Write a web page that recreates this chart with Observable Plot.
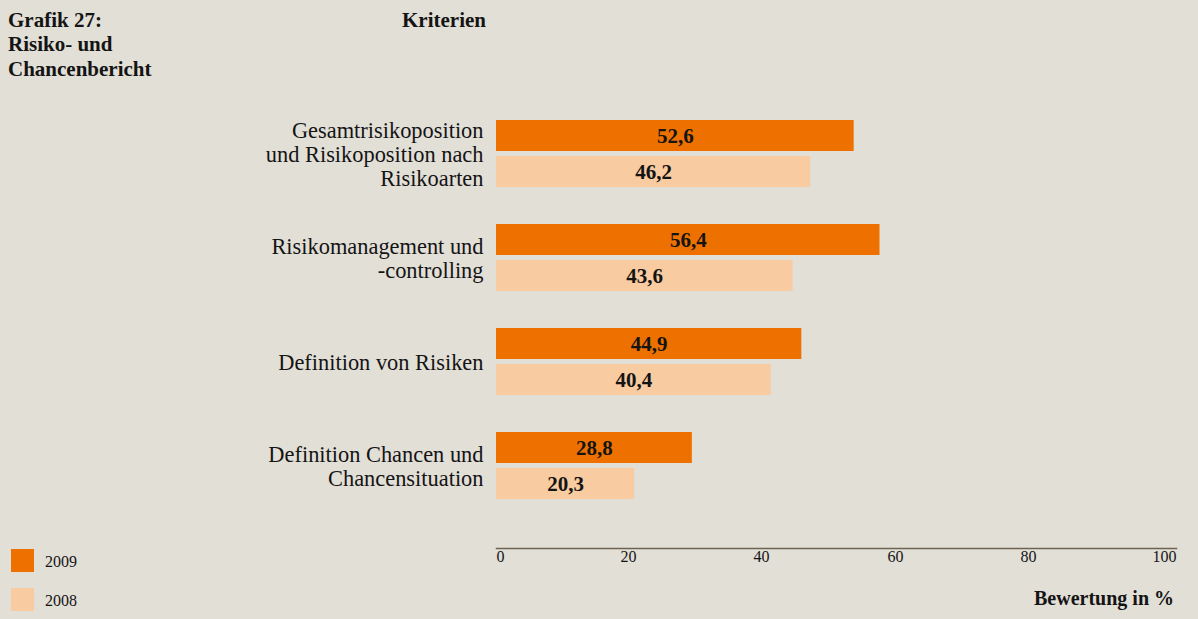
<!DOCTYPE html>
<html>
<head>
<meta charset="utf-8">
<script src="https://cdn.jsdelivr.net/npm/d3@7"></script>
<script src="https://cdn.jsdelivr.net/npm/@observablehq/plot@0.6"></script>
<style>
  html, body { margin: 0; padding: 0; background: #e2dfd7; }
  #wrap { position: relative; width: 1198px; height: 619px; font-family: "Liberation Serif", serif; color: #141414; overflow: hidden; }
  #wrap svg { position: absolute; left: 0; top: 0; }
  .abs { position: absolute; white-space: nowrap; }
  .title { left: 8px; top: 7.5px; font-weight: bold; font-size: 21px; line-height: 24.5px; }
  .kriterien { right: 712px; top: 7.5px; font-weight: bold; font-size: 21px; line-height: 24.5px; }
  .xlabel { right: 24px; top: 586px; font-weight: bold; font-size: 20px; line-height: 24.5px; }
  .sw { position: absolute; left: 11px; width: 23px; height: 23px; }
  .lg { position: absolute; left: 45px; font-size: 16px; line-height: 16px; }
</style>
</head>
<body>
<div id="wrap"></div>
<script>
// ---- data ----
const categories = [
  "Gesamtrisikoposition\nund Risikoposition nach\nRisikoarten",
  "Risikomanagement und\n-controlling",
  "Definition von Risiken",
  "Definition Chancen und\nChancensituation"
];
const values2009 = [52.6, 56.4, 44.9, 28.8];
const values2008 = [46.2, 43.6, 40.4, 20.3];
const xTicks = [0, 20, 40, 60, 80, 100];
const seriesNames = ["2009", "2008"];
const titleLines = ["Grafik 27:", "Risiko- und", "Chancenbericht"];
const axisTitle = "Bewertung in %";
const categoryHeader = "Kriterien";

// ---- styles ----
const color2009 = "#ee7100";
const color2008 = "#f9cba0";
const ink = "#141414";
const tickNudge = [4, -4, -7, -9, -12, -12];

const rows = categories.map((c, i) => ({category: c, v2009: values2009[i], v2008: values2008[i]}));
const fmt = v => v.toFixed(1).replace(".", ",");

const chart = Plot.plot({
  width: 1198,
  height: 619,
  marginLeft: 496,
  marginRight: 22,
  marginTop: 119,
  marginBottom: 71,
  style: {background: "transparent", fontFamily: "Liberation Serif, serif", color: ink},
  x: {domain: [0, 100], axis: null},
  y: {domain: categories, range: [119, 500], paddingInner: 0.36, paddingOuter: 0, axis: null},
  marks: [
    Plot.barX(rows, {x: "v2009", y: "category", fill: color2009, insetBottom: 36}),
    Plot.barX(rows, {x: "v2008", y: "category", fill: color2008, insetTop: 36}),
    Plot.text(rows, {x: d => d.v2009 / 2, y: "category", dy: -18, text: d => fmt(d.v2009), fontWeight: "bold", fontSize: 21, fill: ink}),
    Plot.text(rows, {x: d => d.v2008 / 2, y: "category", dy: 18, text: d => fmt(d.v2008), fontWeight: "bold", fontSize: 21, fill: ink}),
    Plot.text(categories, {y: d => d, text: d => d, frameAnchor: "left", textAnchor: "end", dx: -13, fontSize: 22.4, lineHeight: 24 / 22.4, fill: ink}),
    Plot.frame({anchor: "bottom", stroke: "#6e6350", strokeWidth: 1.5}),
    ...xTicks.map((t, i) => Plot.text([t], {x: d => d, text: d => String(d), frameAnchor: "bottom", dy: 13, dx: tickNudge[i], fontSize: 16, fill: ink}))
  ]
});

const wrap = document.getElementById("wrap");
wrap.appendChild(chart);

function addDiv(cls, html, extra) {
  const d = document.createElement("div");
  d.className = "abs " + cls;
  d.innerHTML = html;
  if (extra) Object.assign(d.style, extra);
  wrap.appendChild(d);
  return d;
}
addDiv("title", titleLines.join("<br>"));
addDiv("kriterien", categoryHeader);
addDiv("xlabel", axisTitle);

const swColors = [color2009, color2008];
const swTops = [549, 588];
seriesNames.forEach((name, i) => {
  const s = document.createElement("div");
  s.className = "sw";
  s.style.top = swTops[i] + "px";
  s.style.background = swColors[i];
  wrap.appendChild(s);
  const l = document.createElement("div");
  l.className = "lg";
  l.style.top = (swTops[i] + 4.6) + "px";
  l.textContent = name;
  wrap.appendChild(l);
});
</script>
</body>
</html>
